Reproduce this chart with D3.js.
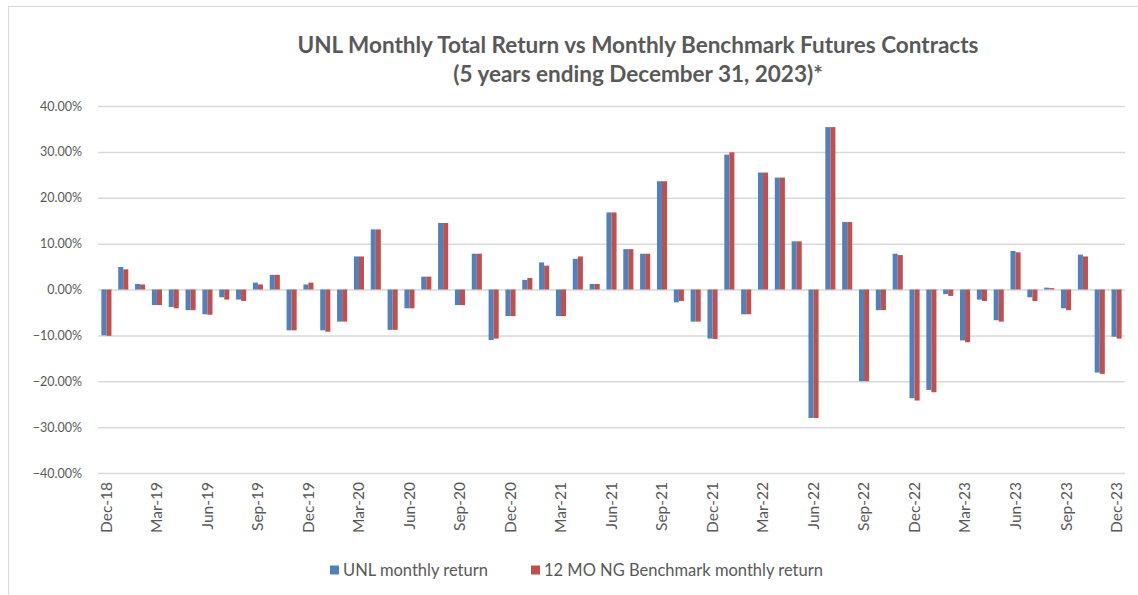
<!DOCTYPE html>
<html>
<head>
<meta charset="utf-8">
<script src="https://cdn.jsdelivr.net/npm/d3@7"></script>
<style>
  body { margin: 0; background: #fff; }
  svg text { font-family: Lato, "Open Sans", sans-serif; fill: #595959; }
</style>
</head>
<body>
<svg id="chart" width="1138" height="595"></svg>
<script>
// months on the axis, Dec-18 .. Dec-23
var months = ["Dec-18","Jan-19","Feb-19","Mar-19","Apr-19","May-19","Jun-19","Jul-19","Aug-19","Sep-19","Oct-19","Nov-19",
  "Dec-19","Jan-20","Feb-20","Mar-20","Apr-20","May-20","Jun-20","Jul-20","Aug-20","Sep-20","Oct-20","Nov-20",
  "Dec-20","Jan-21","Feb-21","Mar-21","Apr-21","May-21","Jun-21","Jul-21","Aug-21","Sep-21","Oct-21","Nov-21",
  "Dec-21","Jan-22","Feb-22","Mar-22","Apr-22","May-22","Jun-22","Jul-22","Aug-22","Sep-22","Oct-22","Nov-22",
  "Dec-22","Jan-23","Feb-23","Mar-23","Apr-23","May-23","Jun-23","Jul-23","Aug-23","Sep-23","Oct-23","Nov-23","Dec-23"];

// monthly returns in %
var unlReturn = [-10.0, 4.9, 1.2, -3.4, -3.8, -4.5, -5.4, -1.7, -2.2, 1.5, 3.2, -8.9,
  1.1, -8.9, -7.0, 7.2, 13.1, -8.8, -4.1, 2.8, 14.5, -3.4, 7.8, -11.0,
  -5.8, 2.1, 5.9, -5.8, 6.7, 1.2, 16.8, 8.8, 7.8, 23.6, -2.8, -7.0,
  -10.7, 29.4, -5.4, 25.5, 24.4, 10.5, -28.0, 35.4, 14.7, -20.0, -4.5, 7.8,
  -23.7, -21.9, -1.0, -11.1, -2.2, -6.7, 8.4, -1.7, 0.4, -4.1, 7.6, -18.1, -10.3];

var benchReturn = [-10.1, 4.4, 1.1, -3.4, -4.1, -4.5, -5.5, -2.2, -2.5, 1.1, 3.2, -8.9,
  1.5, -9.2, -7.0, 7.2, 13.1, -8.8, -4.1, 2.8, 14.5, -3.4, 7.8, -10.7,
  -5.8, 2.5, 5.2, -5.8, 7.2, 1.2, 16.8, 8.8, 7.8, 23.6, -2.5, -7.0,
  -10.8, 29.9, -5.4, 25.5, 24.4, 10.5, -28.0, 35.4, 14.7, -20.0, -4.5, 7.5,
  -24.2, -22.4, -1.4, -11.5, -2.5, -7.0, 8.1, -2.5, 0.3, -4.5, 7.2, -18.4, -10.7];

var yTicks = [40, 30, 20, 10, 0, -10, -20, -30, -40];

var seriesNames = ["UNL monthly return", "12 MO NG Benchmark monthly return"];
var seriesColors = ["#4f81bd", "#c0504d"];

var svg = d3.select("#chart");

// light frame round the chart
svg.append("rect")
  .attr("x", 8.5).attr("y", 6.5)
  .attr("width", 1140).attr("height", 600)
  .attr("fill", "none")
  .attr("stroke", "#d9d9d9");

var x0 = d3.scaleBand()
  .domain(months)
  .range([98, 1125])
  .paddingInner(0.4)
  .paddingOuter(0.2);

var x1 = d3.scaleBand()
  .domain([0, 1])
  .range([0, x0.bandwidth()]);

var y = d3.scaleLinear()
  .domain([-40, 40])
  .range([473, 106]);

// gridlines + y labels
var yAxis = d3.axisLeft(y)
  .tickValues(yTicks)
  .tickSize(-(1125 - 98))
  .tickPadding(16)
  .tickFormat(function(d){ return d3.format(".2f")(d) + "%"; });

svg.append("g")
  .attr("transform", "translate(98,0)")
  .call(yAxis)
  .call(function(g){
    g.select(".domain").remove();
    g.selectAll(".tick line").attr("stroke", "#d9d9d9").attr("stroke-width", 1.5);
    g.selectAll(".tick text").style("font-size", "12.5px").attr("fill", "#595959");
  });

// bars
var rows = months.map(function(m, i){ return {month: m, vals: [unlReturn[i], benchReturn[i]]}; });

var groups = svg.append("g")
  .selectAll("g")
  .data(rows)
  .enter().append("g")
  .attr("transform", function(d){ return "translate(" + x0(d.month) + ",0)"; });

groups.selectAll("rect")
  .data(function(d){ return d.vals; })
  .enter().append("rect")
  .attr("x", function(d, i){ return x1(i); })
  .attr("width", x1.bandwidth())
  .attr("y", function(d){ return y(Math.max(0, d)); })
  .attr("height", function(d){ return Math.abs(y(d) - y(0)); })
  .attr("fill", function(d, i){ return seriesColors[i]; });

// x labels, every third month, rotated
var xAxis = d3.axisBottom(x0)
  .tickValues(months.filter(function(d, i){ return i % 3 === 0; }))
  .tickSize(0);

svg.append("g")
  .attr("transform", "translate(0,482)")
  .call(xAxis)
  .call(function(g){
    g.select(".domain").remove();
    g.selectAll(".tick text")
      .attr("y", 0).attr("x", 0).attr("dy", "0.35em")
      .attr("transform", "rotate(-90)")
      .style("text-anchor", "end")
      .style("font-size", "15.5px")
      .attr("fill", "#595959");
  });

// title
var title = svg.append("text")
  .attr("x", 638)
  .attr("text-anchor", "middle")
  .style("font-size", "22.5px")
  .style("font-weight", "bold");
title.append("tspan").attr("x", 638).attr("y", 53)
  .text("UNL Monthly Total Return vs Monthly Benchmark Futures Contracts");
title.append("tspan").attr("x", 638).attr("y", 82)
  .text("(5 years ending December 31, 2023)*");

// legend
var legendX = [330, 531];
var legend = svg.append("g")
  .selectAll("g")
  .data(seriesNames)
  .enter().append("g")
  .attr("transform", function(d, i){ return "translate(" + legendX[i] + ",570)"; });

legend.append("rect")
  .attr("x", 0).attr("y", -4.5)
  .attr("width", 9).attr("height", 9)
  .attr("fill", function(d, i){ return seriesColors[i]; });

legend.append("text")
  .attr("x", 13).attr("y", 0).attr("dy", "0.35em")
  .style("font-size", "16.5px")
  .text(function(d){ return d; });
</script>
</body>
</html>
